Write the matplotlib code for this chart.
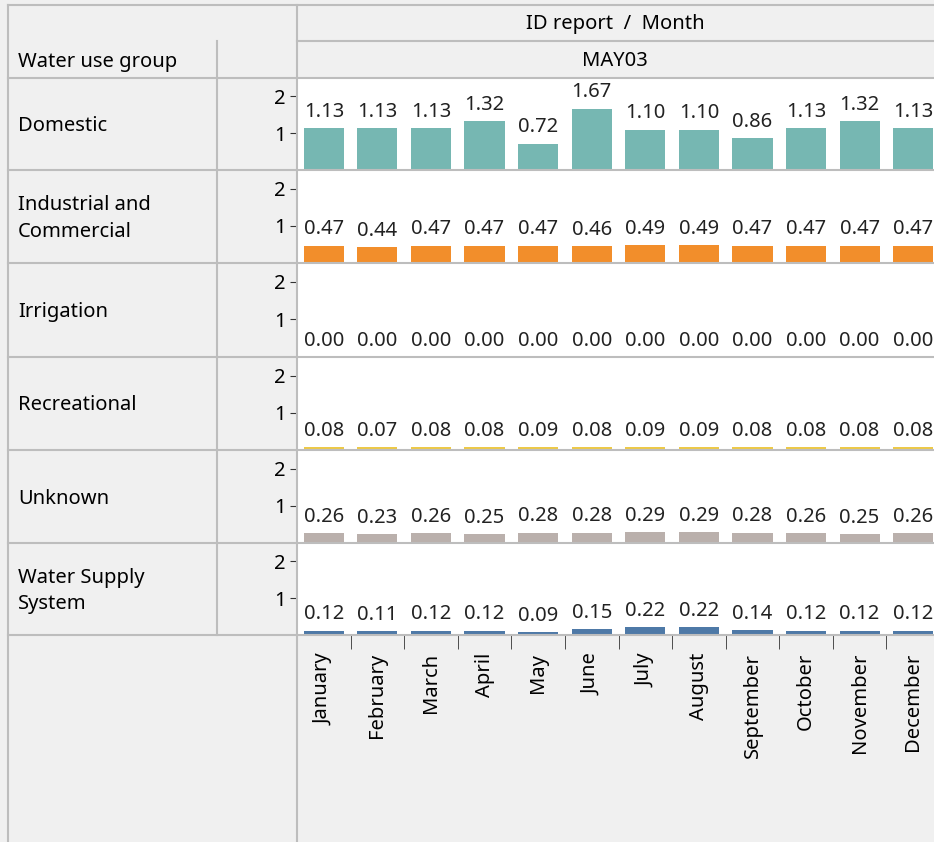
import matplotlib.pyplot as plt
from matplotlib.lines import Line2D

plt.rcParams['font.family'] = ['Noto Sans', 'DejaVu Sans']

months = ['January', 'February', 'March', 'April', 'May', 'June', 'July',
          'August', 'September', 'October', 'November', 'December']
groups = ['Domestic', 'Industrial and\nCommercial', 'Irrigation',
          'Recreational', 'Unknown', 'Water Supply\nSystem']
domestic = [1.13, 1.13, 1.13, 1.32, 0.72, 1.67, 1.10, 1.10, 0.86, 1.13, 1.32, 1.13]
industrial = [0.47, 0.44, 0.47, 0.47, 0.47, 0.46, 0.49, 0.49, 0.47, 0.47, 0.47, 0.47]
irrigation = [0.00] * 12
recreational = [0.08, 0.07, 0.08, 0.08, 0.09, 0.08, 0.09, 0.09, 0.08, 0.08, 0.08, 0.08]
unknown = [0.26, 0.23, 0.26, 0.25, 0.28, 0.28, 0.29, 0.29, 0.28, 0.26, 0.25, 0.26]
supply = [0.12, 0.11, 0.12, 0.12, 0.09, 0.15, 0.22, 0.22, 0.14, 0.12, 0.12, 0.12]
series = [domestic, industrial, irrigation, recreational, unknown, supply]
colors = ['#76b7b2', '#f28e2b', '#e15759', '#edc948', '#bab0ac', '#4e79a7']

W, H = 934, 842
fig = plt.figure(figsize=(W / 100, H / 100), dpi=100, facecolor='#f0f0f0')

def fx(px):
    return px / W

def fy(py):
    return 1 - py / H

rows = [78, 170, 263, 357, 450, 543, 635]
x0, x1 = 297, 940
fs = 14.5

for i, vals in enumerate(series):
    top, bot = rows[i], rows[i + 1]
    ax = fig.add_axes([fx(x0), fy(bot), fx(x1) - fx(x0), (bot - top) / H])
    ax.set_facecolor('white')
    ax.bar(range(12), vals, width=0.75, color=colors[i])
    for j, v in enumerate(vals):
        ax.annotate(f'{v:.2f}', (j, v), xytext=(0, 8), textcoords='offset points',
                    ha='center', va='baseline', fontsize=fs, color='#222222')
    ax.set_xlim(-0.5, 11.5)
    ax.set_ylim(0, 2.5)
    ax.set_yticks([1, 2])
    ax.set_yticklabels(['1', '2'], fontsize=fs)
    ax.tick_params(axis='y', length=5, pad=3, color='#333333')
    for s in ax.spines.values():
        s.set_visible(False)
    if i == len(series) - 1:
        ax.set_xticks(range(12))
        ax.set_xticklabels(months, rotation=90, fontsize=fs, va='top')
        ax.tick_params(axis='x', which='major', length=0, pad=13)
        ax.set_xticks([k + 0.5 for k in range(11)], minor=True)
        ax.tick_params(axis='x', which='minor', length=10, color='#333333')
    else:
        ax.set_xticks([])
    fig.text(fx(18), fy((top + bot) / 2 + 2), groups[i], fontsize=fs,
             ha='left', va='center', linespacing=1.45)

# header texts
fig.text(fx(615), fy(24), 'ID report  /  Month', fontsize=fs, ha='center', va='center')
fig.text(fx(615), fy(61), 'MAY03', fontsize=fs, ha='center', va='center')
fig.text(fx(18), fy(62), 'Water use group', fontsize=fs, ha='left', va='center')

# grid lines
lc = '#bdbdbd'
lw = 1.5
def hline(y, xa, xb):
    fig.add_artist(Line2D([fx(xa), fx(xb)], [fy(y), fy(y)], color=lc, lw=lw))

def vline(x, ya, yb):
    fig.add_artist(Line2D([fx(x), fx(x)], [fy(ya), fy(yb)], color=lc, lw=lw))

hline(5, 8, W)
hline(41, 297, W)
for y in rows:
    hline(y, 8, W)
vline(8, 5, H)
vline(297, 5, H)
vline(217, 41, 635)

fig.savefig('out.png', dpi=100, facecolor=fig.get_facecolor())
